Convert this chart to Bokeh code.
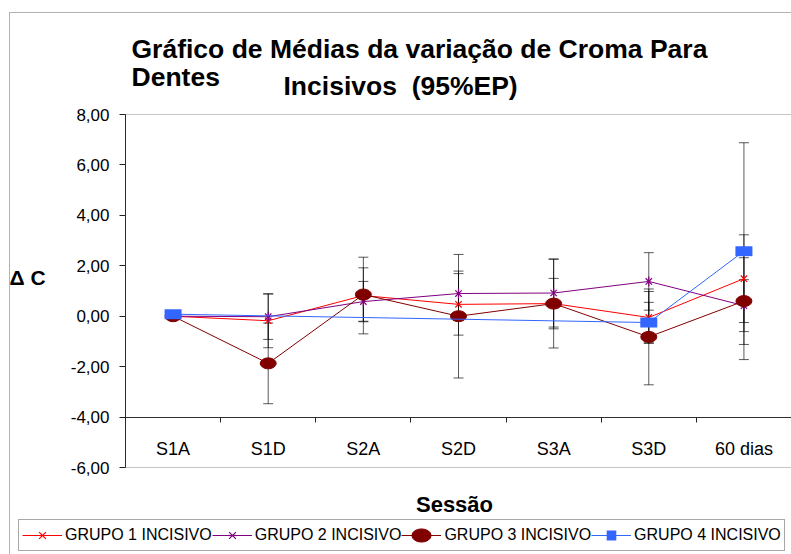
import math
from bokeh.plotting import figure
from bokeh.models import (Range1d, FixedTicker, Label, Legend, LegendItem,
                          Whisker, TeeHead, ColumnDataSource, BoxAnnotation)
from bokeh.embed import file_html
from bokeh.resources import INLINE

# ---------------- data ----------------
sessions = ["S1A", "S1D", "S2A", "S2D", "S3A", "S3D", "60 dias"]

grp1_mean = [0.00, -0.18, 0.82, 0.47, 0.50, -0.05, 1.49]
grp1_err = [0.00, 1.07, 1.52, 1.22, 1.00, 1.03, 1.74]

grp2_mean = [0.00, -0.02, 0.58, 0.90, 0.92, 1.38, 0.42]
grp2_err = [0.00, 0.90, 0.80, 0.89, 1.35, 1.14, 1.03]

grp3_mean = [0.00, -1.87, 0.86, 0.00, 0.50, -0.82, 0.60]
grp3_err = [0.00, 1.60, 1.06, 2.45, 1.76, 1.90, 1.72]

grp4_sessions = ["S1A", "S3D", "60 dias"]
grp4_mean = [0.08, -0.25, 2.58]
grp4_err = [0.00, 0.80, 4.30]

series_names = ["GRUPO 1 INCISIVO", "GRUPO 2 INCISIVO",
                "GRUPO 3 INCISIVO", "GRUPO 4 INCISIVO"]
y_ticks = [-6, -4, -2, 0, 2, 4, 6, 8]
x_axis_cross = -4

title_line1 = "Gráfico de Médias da variação de Croma Para"
title_line2a = "Dentes"
title_line2b = "Incisivos  (95%EP)"
y_title = "Δ C"
x_title = "Sessão"

FONT = "Liberation Sans"
C1, C2, C3, C4 = "#FF0000", "#800080", "#800000", "#3366FF"

# ---------------- layout (pixels) ----------------
W, H = 791, 554
PL, PR, PT, PB = 125, 791, 114, 467   # plot area inside the canvas

n = len(sessions)
ymin, ymax = y_ticks[0], y_ticks[-1]
xpx = (PR - PL) / n
ypx = (PB - PT) / (ymax - ymin)
x_range = Range1d(-PL / xpx, n + (W - PR) / xpx)
y_range = Range1d(ymin - (H - PB) / ypx, ymax + PT / ypx)

pos = {s: i + 0.5 for i, s in enumerate(sessions)}


def src(cats, means):
    return ColumnDataSource(dict(x=[pos[c] for c in cats], y=list(means)))


def err_src(cats, means, errs):
    xs, up, lo = [], [], []
    for c, m, e in zip(cats, means, errs):
        if e > 0:
            xs.append(pos[c]); up.append(m + e); lo.append(m - e)
    return ColumnDataSource(dict(x=xs, upper=up, lower=lo))


p = figure(width=W, height=H, x_range=x_range, y_range=y_range,
           output_backend="svg", toolbar_location=None,
           min_border_left=0, min_border_right=0,
           min_border_top=0, min_border_bottom=0)
p.xgrid.visible = False
p.ygrid.visible = False
p.outline_line_color = None
p.background_fill_color = "white"
p.border_fill_color = "white"

# y axis
ya = p.yaxis[0]
ya.fixed_location = 0
ya.bounds = (ymin, ymax)
ya.ticker = FixedTicker(ticks=y_ticks)
ya.major_label_overrides = {t: f"{t:.2f}".replace(".", ",") for t in y_ticks}
ya.major_tick_in = 0
ya.major_tick_out = 6
ya.minor_tick_in = 0
ya.minor_tick_out = 0
ya.axis_line_color = "#202020"
ya.major_tick_line_color = "#202020"
ya.major_label_text_font = FONT
ya.major_label_text_font_size = "17px"
ya.major_label_text_color = "black"
ya.major_label_standoff = 10

# x axis (category axis crossing at -4)
xa = p.xaxis[0]
xa.fixed_location = x_axis_cross
xa.bounds = (0, n)
xa.ticker = FixedTicker(ticks=[pos[s] for s in sessions],
                        minor_ticks=list(range(n + 1)))
xa.major_label_overrides = {pos[s]: s for s in sessions}
xa.major_tick_in = 0
xa.major_tick_out = 0
xa.minor_tick_in = 0
xa.minor_tick_out = 5
xa.minor_tick_line_color = "#202020"
xa.axis_line_color = "#303030"
xa.major_label_text_font = FONT
xa.major_label_text_font_size = "18px"
xa.major_label_text_color = "black"
xa.major_label_standoff = 17

# plot-area border
p.add_layout(BoxAnnotation(left=0, right=n, top=ymax, bottom=ymin,
                           fill_alpha=0, line_color="#404040", line_width=1))

# error bars
for cats, m, e in [(sessions, grp1_mean, grp1_err), (sessions, grp2_mean, grp2_err),
                   (sessions, grp3_mean, grp3_err), (grp4_sessions, grp4_mean, grp4_err)]:
    w = Whisker(base="x", upper="upper", lower="lower", source=err_src(cats, m, e),
                dimension="height", line_color="black", line_alpha=0.65, line_width=1,
                upper_head=TeeHead(size=10, line_color="black", line_alpha=0.65, line_width=1),
                lower_head=TeeHead(size=10, line_color="black", line_alpha=0.65, line_width=1),
                level="underlay")
    p.add_layout(w)

s1 = src(sessions, grp1_mean)
s2 = src(sessions, grp2_mean)
s3 = src(sessions, grp3_mean)
s4 = src(grp4_sessions, grp4_mean)

r1l = p.line("x", "y", source=s1, line_color=C1, line_width=1)
r1m = p.scatter("x", "y", source=s1, marker="x", size=9, line_color=C1, line_width=1.2)

r2l = p.line("x", "y", source=s2, line_color=C2, line_width=1)
r2m = p.scatter("x", "y", source=s2, marker="x", size=9, line_color=C2, line_width=1.2)
r2v = p.scatter("x", "y", source=s2, marker="dash", angle=math.pi / 2, size=10,
                line_color=C2, line_width=1.2)

r3l = p.line("x", "y", source=s3, line_color=C3, line_width=1)
r3m = p.ellipse("x", "y", source=s3, width=16, height=11, width_units="screen",
                height_units="screen", fill_color=C3, line_color=C3)

r4l = p.line("x", "y", source=s4, line_color=C4, line_width=1)
# 17x10 rectangle marker: a thick horizontal dash
r4m = p.scatter("x", "y", source=s4, marker="dash", size=17, line_width=10,
                line_color=C4, line_cap="butt")

legend = Legend(items=[LegendItem(label=series_names[0], renderers=[r1l, r1m]),
                       LegendItem(label=series_names[1], renderers=[r2l, r2m, r2v]),
                       LegendItem(label=series_names[2], renderers=[r3l, r3m]),
                       LegendItem(label=series_names[3], renderers=[r4l, r4m])],
                orientation="horizontal", location=(18, 3),
                padding=3, spacing=0, margin=0, glyph_width=40, glyph_height=24,
                label_standoff=3, label_height=20,
                label_text_font=FONT, label_text_font_size="16px",
                label_text_color="black",
                border_line_color="#505050", border_line_width=1,
                background_fill_color="white", background_fill_alpha=1)
p.add_layout(legend)


def text(x, y, s, size, align="left"):
    p.add_layout(Label(x=x, y=H - y, x_units="screen", y_units="screen",
                       text=s.replace("  ", " \u00a0"),
                       text_font=FONT, text_font_size=size, text_font_style="bold",
                       text_baseline="middle", text_align=align, text_color="black"))


text(131, 48, title_line1, "26.5px")
text(131, 76, title_line2a, "26.5px")
text(283, 85, title_line2b, "26.5px")
text(9, 277, y_title, "21px")
text(454, 504, x_title, "22px", align="center")

# outer chart frame
p.add_layout(BoxAnnotation(left=9, right=W + 50, top=H - 12, bottom=-20,
                           left_units="screen", right_units="screen",
                           top_units="screen", bottom_units="screen",
                           fill_alpha=0, line_color="black", line_width=1))

open("out.html", "w").write(file_html(p, INLINE))
